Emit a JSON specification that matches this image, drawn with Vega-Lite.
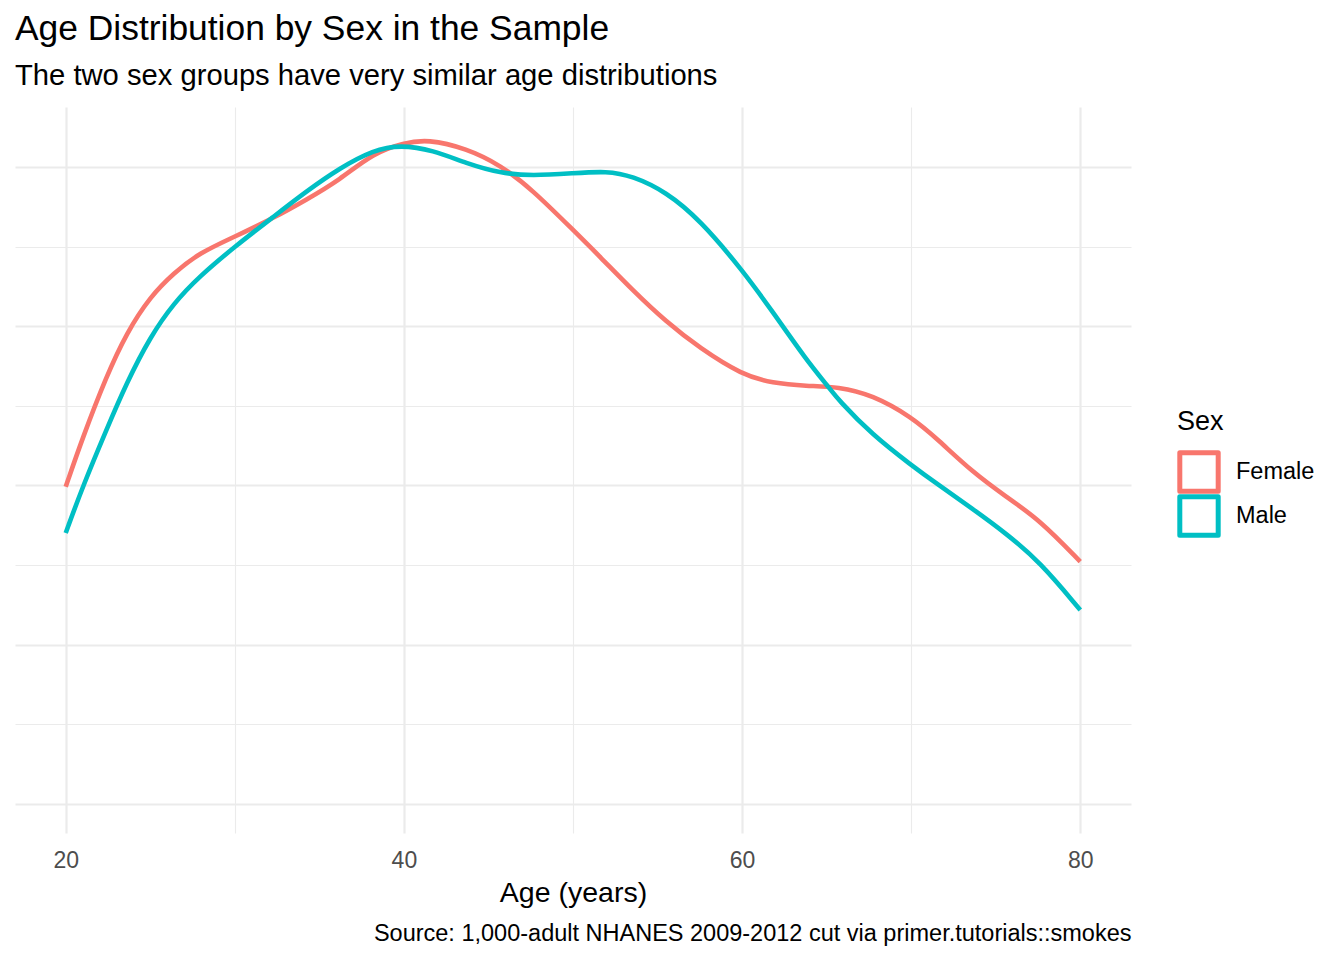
{
  "$schema": "https://vega.github.io/schema/vega-lite/v6.json",
  "width": 1116,
  "height": 726,
  "autosize": {"type": "none"},
  "padding": {"left": 15, "top": 107, "right": 213, "bottom": 127},
  "background": "white",
  "title": {
    "text": "Age Distribution by Sex in the Sample",
    "subtitle": "The two sex groups have very similar age distributions",
    "anchor": "start",
    "frame": "group",
    "font": "Liberation Sans",
    "fontSize": 35.4,
    "fontWeight": "normal",
    "color": "black",
    "subtitleFont": "Liberation Sans",
    "subtitleFontSize": 29.2,
    "subtitleColor": "black",
    "subtitlePadding": 14,
    "offset": 16
  },
  "config": {
    "font": "Liberation Sans",
    "view": {"stroke": null}
  },
  "data": {
    "values": [
      {"age": 20, "density": 0.00996, "sex": "Female"},
      {"age": 21, "density": 0.0115, "sex": "Female"},
      {"age": 22.4, "density": 0.01342, "sex": "Female"},
      {"age": 23.6, "density": 0.01479, "sex": "Female"},
      {"age": 25, "density": 0.01593, "sex": "Female"},
      {"age": 26.4, "density": 0.01667, "sex": "Female"},
      {"age": 27.9, "density": 0.0173, "sex": "Female"},
      {"age": 30, "density": 0.01781, "sex": "Female"},
      {"age": 32.3, "density": 0.0184, "sex": "Female"},
      {"age": 34.2, "density": 0.01896, "sex": "Female"},
      {"age": 36.2, "density": 0.01959, "sex": "Female"},
      {"age": 38.2, "density": 0.02044, "sex": "Female"},
      {"age": 40, "density": 0.02075, "sex": "Female"},
      {"age": 41.4, "density": 0.02087, "sex": "Female"},
      {"age": 43.7, "density": 0.02058, "sex": "Female"},
      {"age": 45.7, "density": 0.02006, "sex": "Female"},
      {"age": 47.6, "density": 0.01928, "sex": "Female"},
      {"age": 50, "density": 0.01802, "sex": "Female"},
      {"age": 51.6, "density": 0.01718, "sex": "Female"},
      {"age": 53.5, "density": 0.01614, "sex": "Female"},
      {"age": 55.5, "density": 0.01514, "sex": "Female"},
      {"age": 57.5, "density": 0.01431, "sex": "Female"},
      {"age": 60, "density": 0.01347, "sex": "Female"},
      {"age": 61.8, "density": 0.01321, "sex": "Female"},
      {"age": 63.8, "density": 0.01312, "sex": "Female"},
      {"age": 65.7, "density": 0.0131, "sex": "Female"},
      {"age": 67.7, "density": 0.01284, "sex": "Female"},
      {"age": 70, "density": 0.01216, "sex": "Female"},
      {"age": 71.6, "density": 0.01143, "sex": "Female"},
      {"age": 73.6, "density": 0.01043, "sex": "Female"},
      {"age": 75.6, "density": 0.00965, "sex": "Female"},
      {"age": 77.6, "density": 0.00892, "sex": "Female"},
      {"age": 80, "density": 0.00761, "sex": "Female"},
      {"age": 20, "density": 0.00851, "sex": "Male"},
      {"age": 21, "density": 0.00996, "sex": "Male"},
      {"age": 22.4, "density": 0.01174, "sex": "Male"},
      {"age": 23.6, "density": 0.01322, "sex": "Male"},
      {"age": 25, "density": 0.01467, "sex": "Male"},
      {"age": 26.4, "density": 0.01573, "sex": "Male"},
      {"age": 27.9, "density": 0.01656, "sex": "Male"},
      {"age": 30, "density": 0.0175, "sex": "Male"},
      {"age": 32.3, "density": 0.01844, "sex": "Male"},
      {"age": 34.2, "density": 0.01922, "sex": "Male"},
      {"age": 36.2, "density": 0.01996, "sex": "Male"},
      {"age": 38.2, "density": 0.02053, "sex": "Male"},
      {"age": 39.8, "density": 0.02069, "sex": "Male"},
      {"age": 41.7, "density": 0.02053, "sex": "Male"},
      {"age": 43.7, "density": 0.02011, "sex": "Male"},
      {"age": 45.7, "density": 0.0198, "sex": "Male"},
      {"age": 47.6, "density": 0.01972, "sex": "Male"},
      {"age": 50, "density": 0.0198, "sex": "Male"},
      {"age": 52, "density": 0.01987, "sex": "Male"},
      {"age": 53.5, "density": 0.01972, "sex": "Male"},
      {"age": 55.5, "density": 0.01922, "sex": "Male"},
      {"age": 57.5, "density": 0.01834, "sex": "Male"},
      {"age": 60, "density": 0.01677, "sex": "Male"},
      {"age": 61.8, "density": 0.01546, "sex": "Male"},
      {"age": 63.8, "density": 0.01394, "sex": "Male"},
      {"age": 65.1, "density": 0.0131, "sex": "Male"},
      {"age": 65.7, "density": 0.01268, "sex": "Male"},
      {"age": 67.7, "density": 0.01159, "sex": "Male"},
      {"age": 70, "density": 0.01064, "sex": "Male"},
      {"age": 71.6, "density": 0.01002, "sex": "Male"},
      {"age": 73.6, "density": 0.00928, "sex": "Male"},
      {"age": 75.6, "density": 0.0085, "sex": "Male"},
      {"age": 77.6, "density": 0.00761, "sex": "Male"},
      {"age": 80, "density": 0.00609, "sex": "Male"}
    ]
  },
  "layer": [
    {
      "mark": {"type": "line", "opacity": 0},
      "encoding": {
        "detail": {"field": "sex", "type": "nominal"},
        "x": {
          "field": "age",
          "type": "quantitative",
          "scale": {"domain": [17, 83], "nice": false, "zero": false},
          "axis": {
            "orient": "bottom",
            "values": [30, 50, 70],
            "grid": true,
            "gridColor": "#EBEBEB",
            "gridWidth": 1.1,
            "domain": false,
            "ticks": false,
            "tickSize": 0,
            "labels": false,
            "title": "Source: 1,000-adult NHANES 2009-2012 cut via primer.tutorials::smokes",
            "titleAnchor": "end",
            "titleFont": "Liberation Sans",
            "titleFontSize": 23.5,
            "titleFontWeight": "normal",
            "titleColor": "black",
            "titlePadding": 88
          }
        },
        "y": {
          "field": "density",
          "type": "quantitative",
          "scale": {"domain": [-0.00091, 0.02188], "nice": false, "zero": false},
          "axis": {
            "orient": "right",
            "values": [0.0025, 0.0075, 0.0125, 0.0175],
            "grid": true,
            "gridColor": "#EBEBEB",
            "gridWidth": 1.1,
            "domain": false,
            "ticks": false,
            "labels": false,
            "title": null
          }
        }
      }
    },
    {
      "mark": {"type": "line", "strokeWidth": 4.6, "interpolate": "basis"},
      "encoding": {
        "x": {
          "field": "age",
          "type": "quantitative",
          "scale": {"domain": [17, 83], "nice": false, "zero": false},
          "axis": {
            "orient": "bottom",
            "values": [20, 40, 60, 80],
            "grid": true,
            "gridColor": "#EBEBEB",
            "gridWidth": 2.2,
            "domain": false,
            "ticks": false,
            "tickSize": 0,
            "labelPadding": 16,
            "labelFont": "Liberation Sans",
            "labelFontSize": 23,
            "labelColor": "#4D4D4D",
            "title": "Age (years)",
            "titleFont": "Liberation Sans",
            "titleFontSize": 28.5,
            "titleFontWeight": "normal",
            "titleColor": "black",
            "titlePadding": 6
          }
        },
        "y": {
          "field": "density",
          "type": "quantitative",
          "scale": {"domain": [-0.00091, 0.02188], "nice": false, "zero": false},
          "axis": {
            "orient": "left",
            "values": [0, 0.005, 0.01, 0.015, 0.02],
            "grid": true,
            "gridColor": "#EBEBEB",
            "gridWidth": 2.2,
            "domain": false,
            "ticks": false,
            "labels": false,
            "title": null
          }
        },
        "color": {
          "field": "sex",
          "type": "nominal",
          "scale": {"domain": ["Female", "Male"], "range": ["#F8766D", "#00BFC4"]},
          "legend": {
            "title": "Sex",
            "orient": "none",
            "legendX": 1162,
            "legendY": 302,
            "symbolType": "square",
            "symbolSize": 1475,
            "symbolStrokeWidth": 5,
            "symbolFillColor": "white",
            "rowPadding": -3,
            "labelOffset": 15,
            "labelFont": "Liberation Sans",
            "labelFontSize": 23.5,
            "labelColor": "black",
            "titleFont": "Liberation Sans",
            "titleFontSize": 27,
            "titleFontWeight": "normal",
            "titleColor": "black",
            "titlePadding": 14,
            "encode": {
              "symbols": {"update": {"strokeJoin": {"value": "round"}}}
            }
          }
        }
      }
    }
  ],
  "resolve": {"axis": {"x": "independent", "y": "independent"}}
}
